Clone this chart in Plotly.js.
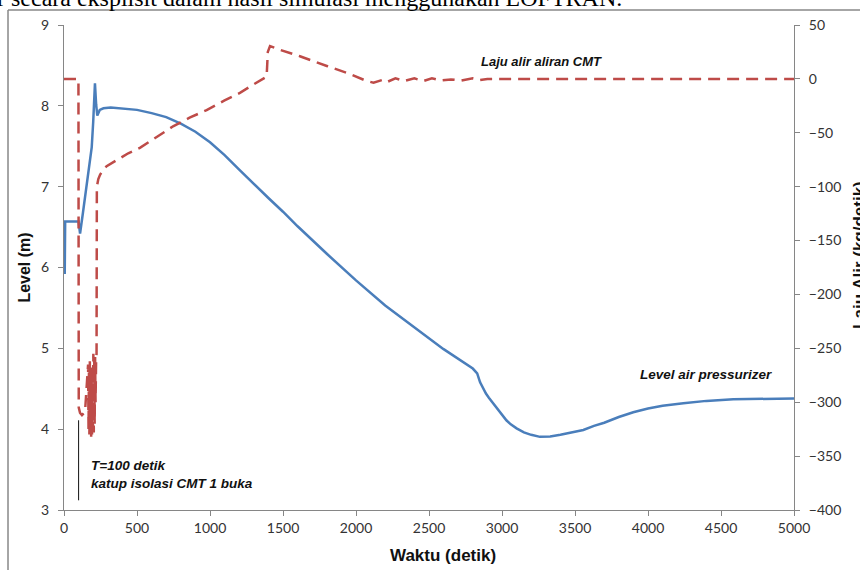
<!DOCTYPE html>
<html>
<head>
<meta charset="utf-8">
<script src="https://cdn.plot.ly/plotly-3.0.1.min.js"></script>
<style>html,body{margin:0;padding:0;background:#fff;}#chart{width:860px;height:570px;}</style>
</head>
<body>
<div id="chart"></div>
<script>
// Level air pressurizer (m), left axis
const levelTime = [5, 8, 100, 110, 130, 150, 170, 190, 200, 212, 220, 228, 245, 270, 320, 400, 500, 600, 700, 800, 900, 1000, 1100, 1200, 1300, 1400, 1500, 1600, 1800, 2000, 2200, 2400, 2600, 2800, 2830, 2850, 2870, 2890, 2910, 2940, 2970, 3000, 3030, 3060, 3100, 3150, 3200, 3260, 3330, 3400, 3480, 3557, 3630, 3700, 3800, 3899, 4000, 4100, 4242, 4400, 4584, 4800, 5000];
const levelValue = [5.92, 6.57, 6.57, 6.42, 6.68, 6.95, 7.2, 7.49, 7.8, 8.28, 8.02, 7.88, 7.95, 7.97, 7.98, 7.97, 7.95, 7.91, 7.86, 7.78, 7.68, 7.55, 7.39, 7.21, 7.03, 6.86, 6.69, 6.51, 6.17, 5.84, 5.53, 5.26, 4.99, 4.75, 4.69, 4.58, 4.5, 4.44, 4.39, 4.32, 4.24, 4.17, 4.11, 4.06, 4.01, 3.96, 3.93, 3.905, 3.91, 3.93, 3.96, 3.99, 4.04, 4.08, 4.15, 4.21, 4.255, 4.29, 4.32, 4.35, 4.37, 4.38, 4.38];

// Laju alir aliran CMT (kg/detik), right axis
const flowTime = [0, 99, 101, 110, 123, 144, 165, 168, 171, 174, 177, 180, 183, 186, 189, 192, 195, 198, 201, 204, 207, 210, 213, 216, 220, 223, 225, 235, 247, 270, 292, 327, 361, 440, 520, 630, 747, 860, 977, 1100, 1205, 1300, 1388, 1396, 1411, 1479, 1616, 1800, 1950, 2073, 2120, 2180, 2210, 2270, 2330, 2400, 2460, 2520, 2580, 2650, 2720, 2800, 2850, 2900, 5000];
const flowValue = [0, 0, -305, -310, -312, -309, -265, -325, -270, -330, -262, -328, -275, -332, -268, -330, -265, -325, -255, -328, -260, -320, -258, -300, -260, -255, -100, -93, -89, -84, -81, -78, -75, -69, -64, -54, -44, -36, -29, -20, -13, -5, 2, 25, 30.5, 27, 21, 12, 5, -2, -3.5, -1, -3, 0.5, -2, 0.5, -2, 0.5, -1.5, -0.5, -1.5, 0.5, -1, 0, 0];

const xTicks = [0, 500, 1000, 1500, 2000, 2500, 3000, 3500, 4000, 4500, 5000];

const axisGray = '#868686';
const tickFont = {family: 'Lato, sans-serif', size: 14, color: '#333'};
const titleFont = {family: '"Liberation Sans", Arial, sans-serif', size: 16, color: '#111', weight: 'bold'};
const noteFont = {family: '"Liberation Sans", Arial, sans-serif', size: 13.5, color: '#111', weight: 'bold', style: 'italic'};

const traces = [
  {x: levelTime, y: levelValue, type: 'scatter', mode: 'lines', name: 'Level air pressurizer',
   line: {color: '#4a7ebb', width: 2.5}, yaxis: 'y'},
  {x: flowTime, y: flowValue, type: 'scatter', mode: 'lines', name: 'Laju alir aliran CMT',
   line: {color: '#be4b48', width: 2.5, dash: '12px,7px'}, yaxis: 'y2'}
];

const layout = {
  width: 860, height: 570,
  margin: {l: 64, r: 66, t: 25, b: 60},
  paper_bgcolor: '#fff', plot_bgcolor: '#fff',
  showlegend: false,
  xaxis: {range: [0, 5000], tickvals: xTicks, showgrid: false, zeroline: false,
    showline: true, linecolor: axisGray, linewidth: 1, ticks: 'outside', ticklen: 5, tickcolor: axisGray,
    tickfont: tickFont, ticklabelstandoff: 0},
  yaxis: {range: [3, 9], dtick: 1, showgrid: false, zeroline: false,
    showline: true, linecolor: axisGray, linewidth: 1, ticks: 'outside', ticklen: 5, tickcolor: axisGray,
    tickfont: tickFont, ticklabelstandoff: 6,
    title: {text: 'Level (m)', font: titleFont, standoff: 6}},
  yaxis2: {range: [-400, 50], dtick: 50, overlaying: 'y', side: 'right', showgrid: false, zeroline: false,
    showline: true, linecolor: axisGray, linewidth: 1, ticks: 'outside', ticklen: 5, tickcolor: axisGray,
    tickfont: tickFont, ticklabelstandoff: 6},
  shapes: [
    {type: 'line', xref: 'x', yref: 'y', x0: 100, x1: 100, y0: 3.12, y1: 4.11, line: {color: '#111', width: 1}},
    {type: 'line', xref: 'paper', yref: 'paper', x0: -0.0767, x1: 1.1, y0: 1.0309, y1: 1.0309, line: {color: '#888', width: 1.5}},
    {type: 'line', xref: 'paper', yref: 'paper', x0: -0.0767, x1: -0.0767, y0: 1.0309, y1: -0.13, line: {color: '#888', width: 1.5}}
  ],
  annotations: [
    {xref: 'paper', yref: 'paper', x: 0.519, y: -0.0928, xanchor: 'center', yanchor: 'middle', showarrow: false,
     text: 'Waktu (detik)', font: Object.assign({}, titleFont, {size: 17})},
    {xref: 'paper', yref: 'paper', x: 1.0904, y: 0.526, xanchor: 'center', yanchor: 'middle', showarrow: false,
     textangle: -90, text: 'Laju Alir (kg/detik)', font: Object.assign({}, titleFont, {size: 17})},
    {xref: 'x', yref: 'y', x: 170, y: 3.44, xanchor: 'left', yanchor: 'middle', align: 'left', showarrow: false,
     text: 'T=100 detik<br>katup isolasi CMT 1 buka', font: noteFont},
    {xref: 'x', yref: 'y2', x: 3270, y: 16.6, xanchor: 'center', yanchor: 'middle', showarrow: false,
     text: 'Laju alir aliran CMT', font: Object.assign({}, noteFont, {size: 13})},
    {xref: 'x', yref: 'y2', x: 4397, y: -274.7, xanchor: 'center', yanchor: 'middle', showarrow: false,
     text: 'Level air pressurizer', font: noteFont},
    {xref: 'paper', yref: 'paper', x: -0.095, y: 1.056, xanchor: 'left', yanchor: 'middle', showarrow: false,
     text: 'r secara eksplisit dalam hasil simulasi menggunakan LOFTRAN.', font: {family: '"Liberation Serif", "Times New Roman", serif', size: 24, color: '#000'}}
  ]
};

Plotly.newPlot('chart', traces, layout, {displayModeBar: false, staticPlot: true});
</script>
</body>
</html>
